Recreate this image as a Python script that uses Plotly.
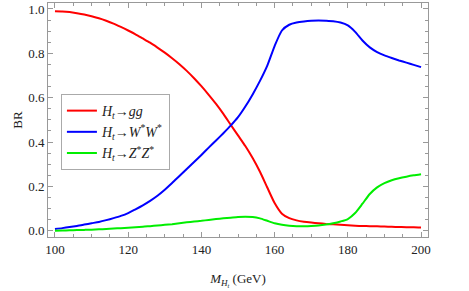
import plotly.graph_objects as go

mass = [100, 102, 104, 106, 108, 110, 112, 114, 116, 118, 120, 122, 124, 126, 128, 130,
        132, 134, 136, 138, 140, 142, 144, 146, 148, 150, 152, 154, 156, 158, 160, 162,
        164, 166, 168, 170, 172, 174, 176, 178, 180, 182, 184, 186, 188, 190, 192, 194,
        196, 198, 200]

br_gg = [0.990, 0.989, 0.986, 0.981, 0.975, 0.967, 0.958, 0.947, 0.934, 0.919, 0.903,
         0.886, 0.867, 0.848, 0.826, 0.803, 0.778, 0.751, 0.721, 0.688, 0.652, 0.613,
         0.572, 0.527, 0.478, 0.430, 0.382, 0.328, 0.266, 0.195, 0.125, 0.077, 0.057,
         0.047, 0.041, 0.037, 0.034, 0.031, 0.029, 0.027, 0.025, 0.023, 0.022, 0.021,
         0.020, 0.019, 0.018, 0.017, 0.016, 0.016, 0.015]

br_ww = [0.008, 0.012, 0.017, 0.022, 0.028, 0.034, 0.040, 0.048, 0.057, 0.067, 0.080,
         0.097, 0.115, 0.135, 0.158, 0.185, 0.215, 0.247, 0.279, 0.310, 0.342, 0.375,
         0.407, 0.440, 0.474, 0.512, 0.560, 0.615, 0.676, 0.745, 0.833, 0.903, 0.929,
         0.939, 0.944, 0.947, 0.948, 0.947, 0.945, 0.939, 0.926, 0.897, 0.858, 0.827,
         0.806, 0.791, 0.779, 0.768, 0.758, 0.748, 0.738]

br_zz = [0.000, 0.001, 0.002, 0.003, 0.004, 0.005, 0.007, 0.008, 0.010, 0.012, 0.014,
         0.016, 0.018, 0.021, 0.024, 0.027, 0.030, 0.034, 0.038, 0.042, 0.045, 0.049,
         0.053, 0.056, 0.059, 0.062, 0.063, 0.062, 0.056, 0.045, 0.034, 0.027, 0.023,
         0.021, 0.021, 0.022, 0.024, 0.028, 0.034, 0.042, 0.053, 0.080, 0.122, 0.166,
         0.196, 0.215, 0.228, 0.237, 0.244, 0.250, 0.255]

names = ["<i>H</i><sub><i>t</i></sub>→<i>gg</i>",
         "<i>H</i><sub><i>t</i></sub>→<i>W</i><sup>*</sup><i>W</i><sup>*</sup>",
         "<i>H</i><sub><i>t</i></sub>→<i>Z</i><sup>*</sup><i>Z</i><sup>*</sup>"]
colors = ["#ff0000", "#0000ff", "#00ee00"]

fig = go.Figure()
for i, (ys, nm, c) in enumerate(zip([br_gg, br_ww, br_zz], names, colors)):
    fig.add_trace(go.Scatter(x=mass, y=ys, mode="lines", name=nm, legendgroup=f"g{i}",
                             line=dict(color=c, width=2, shape="spline", smoothing=0.6)))

serif = "Liberation Serif"
txt = "#222222"
axis_common = dict(
    showline=True, linecolor="#999999", linewidth=1, mirror="ticks",
    ticks="inside", ticklen=5, tickcolor="#999999", tickwidth=1,
    showgrid=False, zeroline=False, automargin=False,
    tickfont=dict(family=serif, size=13, color=txt),
)

fig.update_layout(
    width=469, height=291,
    margin=dict(l=48, r=41, t=3, b=54),
    paper_bgcolor="white", plot_bgcolor="white",
    font=dict(family=serif, size=13, color=txt),
    xaxis=dict(range=[98.1, 201.9], tickmode="array", tickvals=[100, 120, 140, 160, 180, 200],
               minor=dict(dtick=5, tick0=100, ticks="inside", ticklen=3, tickcolor="#999999"),
               title=dict(text="<i>M</i><sub><i>H</i><sub><i>t</i></sub></sub> (GeV)",
                          font=dict(family=serif, size=13, color=txt), standoff=18),
               **axis_common),
    yaxis=dict(range=[-0.028, 1.027], tickmode="array", tickvals=[0, 0.2, 0.4, 0.6, 0.8, 1.0],
               tickformat=".1f",
               minor=dict(dtick=0.05, tick0=0, ticks="inside", ticklen=3, tickcolor="#999999"),
               title=dict(text="BR", font=dict(family=serif, size=13, color=txt), standoff=2),
               **axis_common),
    legend=dict(x=0.034, y=0.611, xanchor="left", yanchor="top",
                bgcolor="white", bordercolor="#aaaaaa", borderwidth=1,
                font=dict(family=serif, size=14, color=txt),
                itemwidth=30, tracegroupgap=0, entrywidth=75, entrywidthmode="pixels"),
    showlegend=True,
)

fig.write_html("out.html", config={"displayModeBar": False},
               post_script="document.body.style.margin='0';")
